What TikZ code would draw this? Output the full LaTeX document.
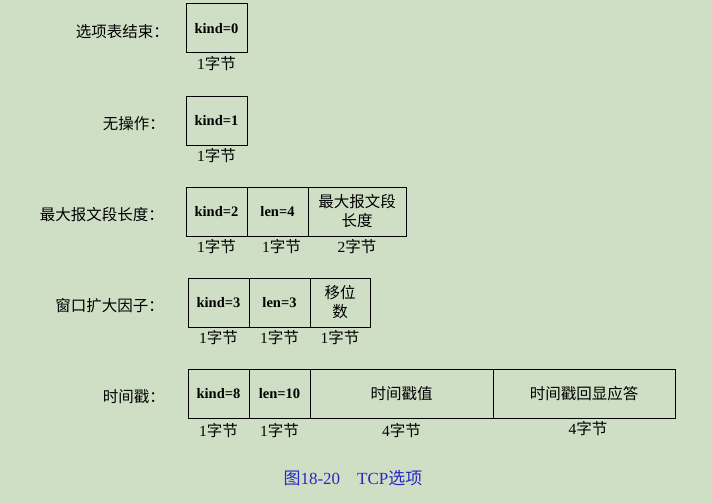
\documentclass[tikz,border=0pt]{standalone}
\usepackage{fontspec}
\setmainfont{Liberation Serif}
\newfontfamily\cjk{Noto Sans CJK SC}
\usetikzlibrary{calc}
\usetikzlibrary{positioning}
\definecolor{pagebg}{RGB}{207,223,197}
\definecolor{capblue}{RGB}{40,40,190}
\tikzstyle{fieldnode} = [draw, rectangle, line width=1pt, outer sep=0pt, minimum width=61pt, minimum height=49pt, inner sep=1pt, align=center, font=\fontsize{14.5}{16}\selectfont\bfseries]
\tikzstyle{textfield} = [font=\cjk\fontsize{15.5}{19}\selectfont]
\tikzstyle{namenode} = [anchor=east, inner sep=1pt, font=\cjk\fontsize{15.5}{17}\selectfont]
\tikzstyle{sizenode} = [inner sep=1pt, font=\fontsize{15.5}{17}\selectfont]
\newcommand\nbytes[1]{#1{\cjk 字节}}

\begin{document}
\begin{tikzpicture}[x=1pt, y=-1pt, node distance=2pt]
\useasboundingbox[fill=pagebg] (0,0) rectangle (712,503);

% end of option list
\node[fieldnode, anchor=north west] (kind0) at (186,4) {kind=0};
\node[namenode, left=16pt of kind0, yshift=-3pt] (name0) {选项表结束：};
\node[sizenode, below=of kind0] (size0) {\nbytes{1}};

% no operation
\node[fieldnode, anchor=north west] (kind1) at (186,96) {kind=1};
\node[namenode, left=20pt of kind1, yshift=-3pt] (name1) {无操作：};
\node[sizenode, below=of kind1] (size1) {\nbytes{1}};

% maximum segment size
\node[fieldnode, anchor=north west] (kind2) at (186,187) {kind=2};
\node[fieldnode, right=0pt of kind2] (len2) {len=4};
\node[fieldnode, textfield, minimum width=98pt, right=0pt of len2] (mss) {最大报文段\\长度};
\node[namenode, left=21pt of kind2, yshift=-3pt] (name2) {最大报文段长度：};
\node[sizenode, below=of kind2] (size2a) {\nbytes{1}};
\node[sizenode, below=of len2, xshift=4pt] (size2b) {\nbytes{1}};
\node[sizenode, below=of mss] (size2c) {\nbytes{2}};

% window scale factor
\node[fieldnode, anchor=north west] (kind3) at (188,278) {kind=3};
\node[fieldnode, right=0pt of kind3] (len3) {len=3};
\node[fieldnode, textfield, minimum width=60pt, right=0pt of len3] (shift) {移位\\数};
\node[namenode, left=23pt of kind3, yshift=-3pt] (name3) {窗口扩大因子：};
\node[sizenode, below=of kind3] (size3a) {\nbytes{1}};
\node[sizenode, below=of len3] (size3b) {\nbytes{1}};
\node[sizenode, below=of shift] (size3c) {\nbytes{1}};

% timestamp
\node[fieldnode, anchor=north west] (kind8) at (188,369) {kind=8};
\node[fieldnode, right=0pt of kind8] (len8) {len=10};
\node[fieldnode, textfield, minimum width=183pt, right=0pt of len8] (tsval) {时间戳值};
\node[fieldnode, textfield, minimum width=182pt, right=0pt of tsval] (tsecr) {时间戳回显应答};
\node[namenode, left=22pt of kind8, yshift=-3pt] (name8) {时间戳：};
\node[sizenode, below=of kind8, yshift=-2pt] (size8a) {\nbytes{1}};
\node[sizenode, below=of len8, yshift=-2pt] (size8b) {\nbytes{1}};
\node[sizenode, below=of tsval, yshift=-2pt] (size8c) {\nbytes{4}};
\node[sizenode, below=of tsecr, xshift=4pt] (size8d) {\nbytes{4}};

\node[text=capblue, font=\fontsize{17}{19}\selectfont] (caption) at (353,478) {{\cjk 图}18-20\quad TCP{\cjk 选项}};
\end{tikzpicture}
\end{document}
